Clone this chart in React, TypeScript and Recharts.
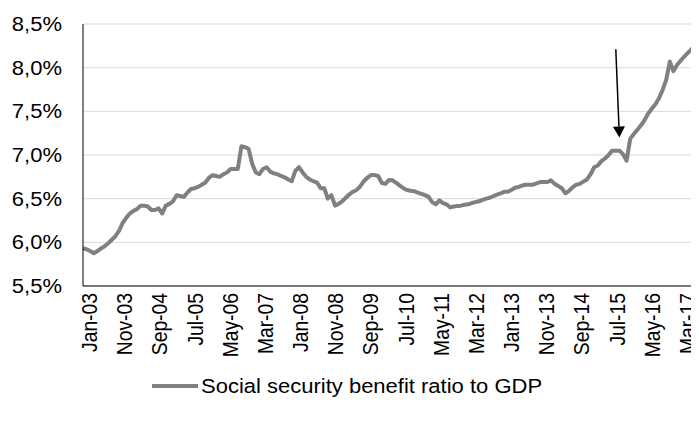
import { CartesianGrid, Legend, Line, LineChart, ReferenceLine, XAxis, YAxis } from "recharts";

const MONTHS = ["Jan", "Feb", "Mar", "Apr", "May", "Jun", "Jul", "Aug", "Sep", "Oct", "Nov", "Dec"];
const FIRST_YEAR = 3;

// monthly ratio, Jan-03 .. Mar-17 (%)
const ratio = [
  5.935, 5.92, 5.9, 5.875, 5.9, 5.93, 5.955, 5.99, 6.03, 6.07, 6.13, 6.22,
  6.28, 6.33, 6.36, 6.38, 6.42, 6.42, 6.41, 6.37, 6.37, 6.39, 6.33, 6.42,
  6.44, 6.47, 6.54, 6.53, 6.52, 6.57, 6.61, 6.62, 6.635, 6.66, 6.685, 6.74,
  6.77, 6.76, 6.75, 6.78, 6.8, 6.84, 6.84, 6.84, 7.1, 7.09, 7.07, 6.9,
  6.8, 6.78, 6.84, 6.86, 6.81, 6.79, 6.78, 6.76, 6.745, 6.72, 6.7, 6.82,
  6.86, 6.8, 6.75, 6.72, 6.7, 6.685, 6.62, 6.62, 6.5, 6.54, 6.42, 6.44,
  6.47, 6.51, 6.55, 6.58, 6.6, 6.64, 6.7, 6.74, 6.77, 6.77, 6.76, 6.68,
  6.67, 6.715, 6.71, 6.68, 6.65, 6.62, 6.6, 6.59, 6.585, 6.57, 6.555, 6.54,
  6.52, 6.46, 6.435, 6.48, 6.45, 6.435, 6.4, 6.41, 6.415, 6.42, 6.43, 6.435,
  6.45, 6.46, 6.47, 6.485, 6.5, 6.51, 6.53, 6.545, 6.56, 6.58, 6.58, 6.6,
  6.625, 6.635, 6.65, 6.66, 6.66, 6.66, 6.675, 6.69, 6.69, 6.69, 6.71, 6.67,
  6.645, 6.62, 6.56, 6.59, 6.63, 6.66, 6.67, 6.695, 6.72, 6.78, 6.86, 6.88,
  6.93, 6.96, 7.0, 7.05, 7.05, 7.05, 7.01, 6.935, 7.185, 7.24, 7.29, 7.34,
  7.4, 7.475, 7.53, 7.58, 7.65, 7.745, 7.86, 8.07, 7.96, 8.03, 8.08, 8.125,
  8.17, 8.21, 8.26,
];

const yTicks = [5.5, 6, 6.5, 7, 7.5, 8, 8.5];
const seriesName = "Social security benefit ratio to GDP";

// arrow annotation (category, value)
const arrowFrom = { x: "May-15", y: 8.21 };
const arrowTo = { x: "Jun-15", y: 7.2 };

const data = ratio.map((v, i) => ({
  month: `${MONTHS[i % 12]}-${String(FIRST_YEAR + Math.floor(i / 12)).padStart(2, "0")}`,
  ratio: v,
}));

const FONT = "'Liberation Sans', Arial, sans-serif";
const FONT_SIZE = 19.3;
const STRETCH = 1.14;
const GREY = "#808080";

const fmt = (v: number) => `${v.toFixed(1).replace(".", ",")}%`;

// category labels sit a little inside the first/last points, like the source
function XTick({ x, y, payload, index, visibleTicksCount }: any) {
  const t = visibleTicksCount > 1 ? index / (visibleTicksCount - 1) : 0;
  const dx = 6 - 14 * t;
  return (
    <g transform={`translate(${x + dx},${y}) scale(${STRETCH},1) rotate(-90)`}>
      <text textAnchor="end" dominantBaseline="central" fontFamily={FONT} fontSize={FONT_SIZE} fill="#000">
        {payload.value}
      </text>
    </g>
  );
}

function YTick({ x, y, payload }: any) {
  return (
    <g transform={`translate(${x},${y}) scale(${STRETCH},1)`}>
      <text textAnchor="end" dominantBaseline="central" fontFamily={FONT} fontSize={FONT_SIZE} fill="#000">
        {fmt(payload.value)}
      </text>
    </g>
  );
}

function Arrow({ x1, y1, x2, y2 }: any) {
  const dx = x2 - x1;
  const dy = y2 - y1;
  const len = Math.sqrt(dx * dx + dy * dy);
  const ux = dx / len;
  const uy = dy / len;
  const head = 11;
  const bx = x2 - ux * head;
  const by = y2 - uy * head;
  return (
    <g>
      <line x1={x1} y1={y1} x2={bx} y2={by} stroke="#000" strokeWidth={1.5} />
      <polygon
        points={`${x2},${y2} ${bx - uy * 6},${by + ux * 6} ${bx + uy * 6},${by - ux * 6}`}
        fill="#000"
      />
    </g>
  );
}

function LegendBox() {
  return (
    <svg width={699} height={24} style={{ display: "block" }}>
      <line x1={152} y1={12} x2={198} y2={12} stroke={GREY} strokeWidth={4} />
      <g transform={`translate(201,12) scale(${STRETCH},1)`}>
        <text dominantBaseline="central" fontFamily={FONT} fontSize={FONT_SIZE} fill="#000">
          {seriesName}
        </text>
      </g>
    </svg>
  );
}

export default function App() {
  return (
    <div style={{ margin: -8, width: 699, height: 422, background: "#fff" }}>
      <LineChart width={699} height={422} data={data} margin={{ top: 24, right: 4, bottom: 24, left: 0 }}>
        <CartesianGrid vertical={false} stroke="#d9d9d9" />
        <XAxis
          dataKey="month"
          interval={9}
          height={88}
          tickLine={false}
          tickSize={0}
          tickMargin={7}
          axisLine={{ stroke: "#000" }}
          tick={(p: any) => <XTick {...p} />}
        />
        <YAxis
          domain={[5.5, 8.5]}
          ticks={yTicks}
          width={83}
          tickLine={false}
          tickSize={0}
          tickMargin={21}
          axisLine={{ stroke: "#000" }}
          tick={(p: any) => <YTick {...p} />}
        />
        <Line
          type="linear"
          dataKey="ratio"
          name={seriesName}
          stroke={GREY}
          strokeWidth={4}
          strokeLinejoin="round"
          dot={false}
          activeDot={false}
          isAnimationActive={false}
        />
        <ReferenceLine segment={[arrowFrom, arrowTo]} shape={(p: any) => <Arrow {...p} />} />
        <Legend
          verticalAlign="bottom"
          wrapperStyle={{ left: 0, width: 699, lineHeight: 0 }}
          content={() => <LegendBox />}
        />
      </LineChart>
    </div>
  );
}
